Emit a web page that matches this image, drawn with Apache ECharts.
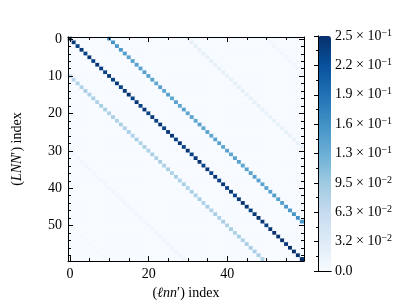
<!DOCTYPE html>
<html>
<head>
<meta charset="utf-8">
<script src="https://cdn.jsdelivr.net/npm/echarts@6/dist/echarts.min.js"></script>
<style>html,body{margin:0;padding:0;background:#fff}#c{width:407px;height:305px}</style>
</head>
<body>
<div id="c"></div>
<script>
// ---- data ----
const N = 60;
const indexCategories = Array.from({length: N}, (_, i) => String(i));
const xTickLabels = ['0', '20', '40'];
const yTickLabels = ['0', '10', '20', '30', '40', '50'];

// main diagonal (row i, col i)
const diag0 = [0.252,0.245,0.235,0.245,0.235,0.245,0.235,0.245,0.24,0.235,
               0.245,0.235,0.245,0.235,0.245,0.25,0.235,0.245,0.235,0.245,
               0.235,0.245,0.235,0.245,0.235,0.245,0.245,0.235,0.245,0.235,
               0.245,0.235,0.245,0.25,0.235,0.245,0.235,0.245,0.235,0.245,
               0.235,0.245,0.235,0.245,0.25,0.245,0.235,0.245,0.25,0.245,
               0.235,0.245,0.25,0.245,0.25,0.245,0.25,0.252,0.25,0.252];
// upper +10 (row i, col i+10)
const diagP10 = [0.16,0.155,0.15,0.15,0.145,0.14,0.14,0.14,0.14,0.14,
                 0.14,0.14,0.135,0.14,0.135,0.14,0.135,0.14,0.135,0.14,
                 0.135,0.14,0.135,0.14,0.135,0.14,0.135,0.14,0.14,0.135,
                 0.14,0.135,0.14,0.14,0.135,0.14,0.14,0.14,0.14,0.14,
                 0.14,0.14,0.145,0.14,0.145,0.15,0.15,0.155,0.16,0.15];
// lower -10 (row i+10, col i)
const diagM10 = [0.07,0.075,0.08,0.08,0.085,0.08,0.085,0.08,0.085,0.085,
                 0.08,0.085,0.08,0.085,0.08,0.085,0.08,0.085,0.08,0.085,
                 0.08,0.085,0.08,0.085,0.08,0.085,0.08,0.085,0.08,0.085,
                 0.08,0.085,0.08,0.085,0.08,0.085,0.08,0.085,0.08,0.085,
                 0.08,0.085,0.08,0.085,0.08,0.085,0.085,0.085,0.085,0.08];
// upper +30 (row i, col i+30)
const diagP30 = [0.022,0.022,0.022,0.022,0.022,0.022,0.022,0.022,0.022,0.022,
                 0.022,0.022,0.022,0.022,0.022,0.022,0.022,0.022,0.022,0.022,
                 0.02,0.02,0.02,0.02,0.02,0.02,0.018,0.018,0.018,0.018];
// lower -30 (row i+30, col i)
const diagM30 = [0.01,0.01,0.01,0.01,0.01,0.01,0.01,0.01,0.01,0.01,
                 0.01,0.01,0.01,0.01,0.01,0.01,0.01,0.01,0.01,0.01,
                 0.01,0.01,0.01,0.01,0.01,0.01,0.01,0.01,0.01,0.01];
// upper +50 (row i, col i+50)
const diagP50 = [0.01,0.01,0.01,0.01,0.01,0.01,0.01,0.01,0.01,0.01];
// lower -50 (row i+50, col i)
const diagM50 = [0.004,0.004,0.004,0.004,0.004,0.004,0.004,0.004,0.004,0.004];

// colorbar ticks
const cbMax = 0.252;
const cbStep = 0.0315;
const cbMantissa = ['0.0','3.2','6.3','9.5','1.3','1.6','1.9','2.2','2.5'];
const cbExponent = [null,'2','2','2','1','1','1','1','1'];

const blues = ['#f7fbff','#deebf7','#c6dbef','#9ecae1','#6baed6','#4292c6','#2171b5','#08519c','#08306b'];

// ---- build matrix ----
const M = [];
for (let r = 0; r < N; r++) { M.push(new Array(N).fill(0)); }
function put(arr, off) {
  arr.forEach((v, i) => {
    const r = off >= 0 ? i : i - off;
    const c = off >= 0 ? i + off : i;
    if (r < N && c < N) M[r][c] = v;
  });
}
put(diag0, 0); put(diagP10, 10); put(diagM10, -10);
put(diagP30, 30); put(diagM30, -30); put(diagP50, 50); put(diagM50, -50);
const heat = [];
for (let r = 0; r < N; r++) for (let c = 0; c < N; c++) heat.push([c, r, M[r][c]]);

const FONT = 'Liberation Serif';
const txt = {fontFamily: FONT, fontSize: 14, color: '#000'};
const line = {show: true, lineStyle: {color: '#000', width: 1}};

function catX(pos, tickEvery, len, labels) {
  return {
    type: 'category', gridIndex: 0, data: indexCategories, position: pos, z: 5,
    axisLine: labels !== null ? line : {show: false},
    axisTick: {show: true, inside: true, alignWithLabel: true, length: len,
               interval: (i) => i % tickEvery === 0, lineStyle: {color: '#000', width: 1}},
    axisLabel: labels ? Object.assign({show: true, margin: 6,
               interval: (i) => labels.indexOf(String(i)) >= 0}, txt) : {show: false},
    splitLine: {show: false}
  };
}
function catY(pos, tickEvery, len, labels) {
  return {
    type: 'category', gridIndex: 0, data: indexCategories, position: pos, inverse: true, z: 5,
    axisLine: labels !== null ? line : {show: false},
    axisTick: {show: true, inside: true, alignWithLabel: true, length: len,
               interval: (i) => i % tickEvery === 0, lineStyle: {color: '#000', width: 1}},
    axisLabel: labels ? Object.assign({show: true, margin: 6,
               interval: (i) => labels.indexOf(String(i)) >= 0}, txt) : {show: false},
    splitLine: {show: false}
  };
}

const xBottom = catX('bottom', 20, 5, xTickLabels);
xBottom.name = '{r|(}{i|ℓnn}{r|′) index}';
xBottom.nameLocation = 'middle';
xBottom.nameGap = 16;
xBottom.nameTextStyle = {rich: {r: txt, i: Object.assign({fontStyle: 'italic'}, txt)}};
const xBottomMinor = catX('bottom', 5, 3, false); xBottomMinor.axisLine = {show: false};
const xTop = catX('top', 20, 5, false);
const xTopMinor = catX('top', 5, 3, false); xTopMinor.axisLine = {show: false};

const yLeft = catY('left', 10, 5, yTickLabels);
yLeft.name = '{r|(}{i|LNN}{r|′) index}';
yLeft.nameLocation = 'middle';
yLeft.nameRotate = 90;
yLeft.nameGap = 44;
yLeft.nameTextStyle = {rich: {r: txt, i: Object.assign({fontStyle: 'italic'}, txt)}};
const yLeftMinor = catY('left', 2, 3, false); yLeftMinor.axisLine = {show: false};
const yRight = catY('right', 10, 5, false);
const yRightMinor = catY('right', 2, 3, false); yRightMinor.axisLine = {show: false};

const option = {
  animation: false,
  backgroundColor: '#fff',
  grid: [
    {left: 68, top: 37, width: 236, height: 235},
    {left: 318, top: 36, width: 13, height: 235}
  ],
  xAxis: [
    xBottom, xBottomMinor, xTop, xTopMinor,
    {type: 'value', gridIndex: 1, min: 0, max: 1, position: 'bottom', z: 10,
     axisLine: line, axisTick: {show: false}, axisLabel: {show: false}, splitLine: {show: false}},
    {type: 'value', gridIndex: 1, min: 0, max: 1, position: 'top', z: 10,
     axisLine: line, axisTick: {show: false}, axisLabel: {show: false}, splitLine: {show: false}}
  ],
  yAxis: [
    yLeft, yLeftMinor, yRight, yRightMinor,
    {type: 'value', gridIndex: 1, min: 0, max: cbMax, interval: cbStep, position: 'right', z: 10,
     axisLine: line,
     axisTick: {show: true, inside: true, length: 4, lineStyle: {color: '#000'}},
     minorTick: {show: true, splitNumber: 2, length: 2, lineStyle: {color: '#000'}},
     splitLine: {show: false},
     axisLabel: {show: true, margin: 4, fontFamily: FONT, fontSize: 14, color: '#000',
       formatter: (v) => {
         const k = Math.round(v / cbStep);
         const m = cbMantissa[k], e = cbExponent[k];
         return e ? '{m|' + m + ' × 10}{s|−' + e + '}' : '{m|' + m + '}';
       },
       rich: {m: {fontFamily: FONT, fontSize: 14, color: '#000'},
              s: {fontFamily: FONT, fontSize: 10, color: '#000', verticalAlign: 'top', padding: [0,0,6,0]}}}},
    {type: 'value', gridIndex: 1, min: 0, max: cbMax, position: 'left', z: 10,
     axisLine: line, axisTick: {show: false}, axisLabel: {show: false}, splitLine: {show: false}}
  ],
  visualMap: {
    type: 'continuous', min: 0, max: cbMax, seriesIndex: 0, calculable: false,
    orient: 'vertical', left: 318, top: 36, itemWidth: 13, itemHeight: 235, padding: 0,
    text: null, showLabel: false, inRange: {color: blues}, z: 4
  },
  series: [{
    type: 'heatmap', xAxisIndex: 0, yAxisIndex: 0, data: heat, progressive: 0,
    emphasis: {disabled: true}, itemStyle: {borderWidth: 0}
  }]
};
const chart = echarts.init(document.getElementById('c'), null, {renderer: 'canvas'});
chart.setOption(option);
</script>
</body>
</html>
